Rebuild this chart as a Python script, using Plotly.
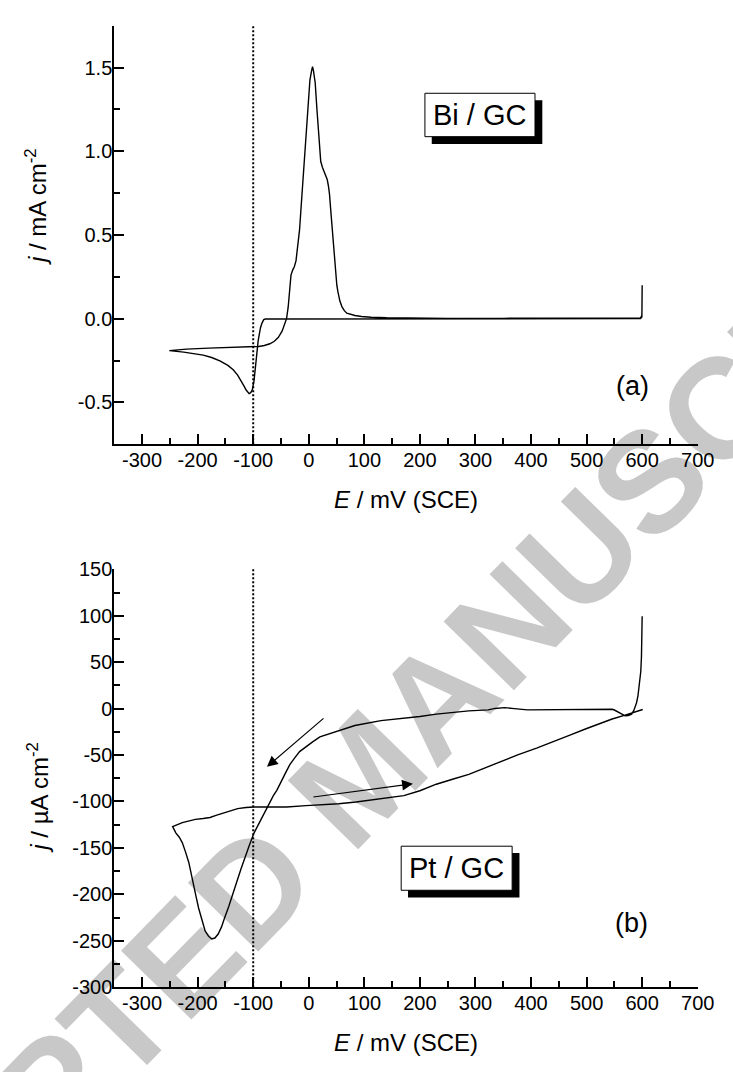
import plotly.graph_objects as go

W, H = 733, 1072
FONT = "Liberation Sans"

# ---- (a) Bi / GC voltammogram, current density in mA cm-2 ----
bi_E_anodic = [-251, -220, -180, -140, -110, -90, -80, -70, -62, -55, -48, -44, -40, -37,
               -34.5, -32, -29, -26, -23, -20, -16.6, -13.5, -10.7, -7.5, -4.9, -1.5, 2.1,
               5, 6.8, 8.5, 11.6, 14.5, 17.4, 19.5, 21.5, 24.5, 27.4, 30.5, 33.2, 35.5,
               37.3, 39.5, 42, 45, 47.8, 50.5, 52.5, 56, 59.6, 64, 68.4, 75, 83, 95, 112,
               140, 180, 250, 350, 450, 550, 590, 597, 599.5, 600, 600]
bi_j_anodic = [-0.191, -0.182, -0.176, -0.172, -0.169, -0.166, -0.160, -0.150, -0.135,
               -0.113, -0.075, -0.035, 0.0, 0.07, 0.19, 0.26, 0.29, 0.31, 0.345, 0.43,
               0.53, 0.68, 0.823, 0.98, 1.115, 1.30, 1.427, 1.48, 1.505, 1.48, 1.408,
               1.26, 1.115, 1.0, 0.94, 0.905, 0.881, 0.858, 0.832, 0.79, 0.744, 0.65,
               0.55, 0.41, 0.277, 0.2, 0.16, 0.105, 0.072, 0.048, 0.033, 0.025, 0.019,
               0.013, 0.008, 0.005, 0.003, 0.002, 0.002, 0.001, 0.001, 0.001, 0.004,
               0.02, 0.1, 0.2]
bi_E_cathodic = [600, 599.5, 597, 500, 300, 100, 0, -60, -75, -78, -81, -84, -86.9, -89,
                 -91.1, -93.5, -95.7, -98.5, -101.6, -104.5, -107.4, -110, -113, -116.2,
                 -122, -128, -136, -145.6, -160, -174.8, -190, -204, -225, -251]
bi_j_cathodic = [0.2, 0.01, 0.0, 0.0, 0.0, 0.0, 0.0, 0.0, 0.0, -0.002, -0.006, -0.025,
                 -0.054, -0.09, -0.133, -0.21, -0.288, -0.37, -0.425, -0.442, -0.448,
                 -0.44, -0.425, -0.405, -0.37, -0.337, -0.305, -0.279, -0.252, -0.232,
                 -0.218, -0.21, -0.2, -0.191]

# ---- (b) Pt / GC voltammogram, current density in uA cm-2 ----
pt_E_cathodic = [600, 599.8, 598.7, 597.5, 595.7, 592.5, 589.9, 585, 581, 575, 569.3, 563,
                 557.5, 550, 546, 520, 493, 469.7, 430, 393.5, 370, 352.6, 335, 323, 288,
                 229.5, 200, 171, 129.9, 83, 42, 20, 6.9, -5, -16.5, -26, -34.1, -42,
                 -51.7, -57.5, -63.5, -72, -81, -90, -98.6, -107.4, -115, -122, -129.5,
                 -136.8, -144, -151.4, -157, -163, -169, -174.8, -180.5, -186.5, -192.5,
                 -198.3, -203, -207, -211.5, -215.9, -222, -227.5, -233, -239, -245]
pt_j_cathodic = [99.4, 80, 55.5, 40, 27.4, 14, 6.3, -2, -5.9, -7.5, -7.7, -5.5, -3.5, -1.5,
                 -0.7, -0.8, -0.9, -0.7, -1.1, -1.4, 0.0, 1.1, 0.2, -1.4, -2.4, -5.9, -8.5,
                 -10.5, -12.9, -18.2, -26, -30.5, -35.8, -41, -46.3, -53.5, -60.3, -69.5,
                 -81.4, -88, -93.5, -103, -113, -123, -134, -148, -160, -172.6, -186.5,
                 -200.6, -213, -225.3, -235, -242.7, -247, -248, -245, -239.3, -228,
                 -214.7, -202, -190, -178, -165.6, -154, -144.5, -138.5, -134, -127]
pt_E_anodic = [-245, -236, -227.5, -215, -204, -190, -177.7, -167, -157, -142, -128, -113,
               -98.6, -70, -39.9, -4.9, 25, 53.8, 85, 112.3, 140, 171, 200, 229.5, 258.7,
               288, 317.4, 346.6, 376, 410, 440.5, 470, 499, 523, 546, 569.3, 585, 598.7,
               601]
pt_j_anodic = [-127, -124.5, -122.8, -120.8, -119.3, -118.3, -117.2, -115, -113, -110,
               -107.7, -106.5, -106, -106, -106, -104.5, -103.5, -102.4, -100.5, -98.2,
               -96.2, -93.7, -88.4, -81.4, -76.1, -70.8, -63.8, -56.8, -49.8, -42.5,
               -35.8, -28.5, -21.7, -16.3, -11.2, -7.0, -4.0, -1.4, -1.0]

# sweep-direction arrows in panel (b): (tail E, tail j) -> (head E, head j)
arrow_tail_E = [29.2, 5.6]
arrow_tail_j = [-9.1, -95.4]
arrow_head_E = [-75.3, 187.4]
arrow_head_j = [-62.7, -80.8]

# axes ranges and tick labels
E_range = [-350, 700]
E_ticks = list(range(-300, 701, 100))
E_ticktext = [str(v) for v in E_ticks]
E_minor = list(range(-350, 701, 100))

bi_range = [-0.75, 1.75]
bi_ticks = [-0.5, 0.0, 0.5, 1.0, 1.5]
bi_ticktext = ["-0.5", "0.0", "0.5", "1.0", "1.5"]
bi_minor = [-0.75, -0.25, 0.25, 0.75, 1.25, 1.75]

pt_range = [-300, 150]
pt_ticks = list(range(-300, 151, 50))
pt_ticktext = [str(v) for v in pt_ticks]
pt_minor = list(range(-275, 151, 50))

E_marker = -100  # dotted reference potential


def fx(p):
    return p / W


def fy(p):
    return 1 - p / H


fig = go.Figure()
fig.add_trace(go.Scatter(x=bi_E_anodic + bi_E_cathodic, y=bi_j_anodic + bi_j_cathodic,
                         mode="lines", line=dict(color="black", width=1.4),
                         xaxis="x", yaxis="y", showlegend=False))
fig.add_trace(go.Scatter(x=pt_E_cathodic + pt_E_anodic, y=pt_j_cathodic + pt_j_anodic,
                         mode="lines", line=dict(color="black", width=1.4),
                         xaxis="x2", yaxis="y2", showlegend=False))

tickfont = dict(family=FONT, size=20, color="black")
base_axis = dict(showline=True, linewidth=2, linecolor="black", ticks="inside",
                 ticklen=10, tickwidth=2, tickcolor="black", showgrid=False,
                 zeroline=False, tickfont=tickfont, tickmode="array")


def minor(vals):
    return dict(tickmode="array", tickvals=vals, ticks="inside", ticklen=6,
                tickwidth=2, tickcolor="black", showgrid=False)


x_dom = [fx(117), fx(714.3)]
fig.update_layout(
    width=W, height=H, margin=dict(l=0, r=0, t=0, b=0),
    paper_bgcolor="white", plot_bgcolor="rgba(0,0,0,0)",
    font=dict(family=FONT, color="black"),
    xaxis=dict(base_axis, domain=x_dom, range=E_range, tickvals=E_ticks,
               ticktext=E_ticktext, minor=minor(E_minor), anchor="y",
               ticklabelstandoff=-3),
    yaxis=dict(base_axis, domain=[fy(442.3), fy(15)], range=bi_range,
               tickvals=bi_ticks, ticktext=bi_ticktext, minor=minor(bi_minor),
               anchor="x", ticklabelstandoff=-4),
    xaxis2=dict(base_axis, domain=x_dom, range=E_range, tickvals=E_ticks,
                ticktext=E_ticktext, minor=minor(E_minor), anchor="y2",
                ticklabelstandoff=-3),
    yaxis2=dict(base_axis, domain=[fy(996.7), fy(570)], range=pt_range,
                tickvals=pt_ticks, ticktext=pt_ticktext, minor=minor(pt_minor),
                anchor="x2", ticklabelstandoff=-4),
)

shapes = []
# dotted line at the reference potential in both panels
for xr, yr in (("x", "y domain"), ("x2", "y2 domain")):
    shapes.append(dict(type="line", xref=xr, yref=yr, x0=E_marker, x1=E_marker,
                       y0=0, y1=1, line=dict(color="black", width=2, dash="2px,2px")))

# framed labels with drop shadow
for (l, t, r, b) in ((435, 84, 547.7, 128.3), (410.7, 852.7, 524.3, 897.7)):
    shapes.append(dict(type="rect", xref="paper", yref="paper",
                       x0=fx(l + 7), x1=fx(r + 7.5), y0=fy(b + 7.5), y1=fy(t + 7),
                       fillcolor="black", line=dict(width=0)))
    shapes.append(dict(type="rect", xref="paper", yref="paper",
                       x0=fx(l), x1=fx(r), y0=fy(b), y1=fy(t),
                       fillcolor="white", line=dict(color="black", width=1)))

# watermark, kept underneath everything
shapes.append(dict(type="line", xref="paper", yref="paper", layer="below",
                   x0=fx(79), y0=fy(1057), x1=fx(639), y1=fy(485),
                   line=dict(color="rgba(0,0,0,0)", width=0),
                   label=dict(text="ACCEPTED MANUSCRIPT", textangle=-45.6,
                              textposition="middle", xanchor="center", yanchor="middle",
                              font=dict(family=FONT, size=143, color="#c8c8c8",
                                        weight="bold"))))
fig.update_layout(shapes=shapes)

ann = []


def text_at(xp, yp, txt, size, angle=0):
    ann.append(dict(xref="paper", yref="paper", x=fx(xp), y=fy(yp), text=txt,
                    showarrow=False, xanchor="center", yanchor="middle",
                    textangle=angle, font=dict(family=FONT, size=size, color="black")))


text_at(37, 200, "<i>j</i> / mA cm<sup>-2</sup>", 24, -90)
text_at(38, 803, "<i>j</i> / µA cm<sup>-2</sup>", 24, -90)
text_at(415.6, 499, "<i>E</i> / mV (SCE)", 24)
text_at(415.6, 1053, "<i>E</i> / mV (SCE)", 24)
text_at(491.3, 106.2, "Bi / GC", 29)
text_at(467.5, 875.2, "Pt / GC", 29)
text_at(648, 383, "(a)", 27)
text_at(647, 931, "(b)", 27)

for te, tj, he, hj in zip(arrow_tail_E, arrow_tail_j, arrow_head_E, arrow_head_j):
    ann.append(dict(xref="x2", yref="y2", axref="x2", ayref="y2", x=he, y=hj,
                    ax=te, ay=tj, text="", showarrow=True, arrowhead=2,
                    arrowsize=1.8, arrowwidth=1.2, arrowcolor="black"))

fig.update_layout(annotations=ann)
fig.write_html("out.html")
